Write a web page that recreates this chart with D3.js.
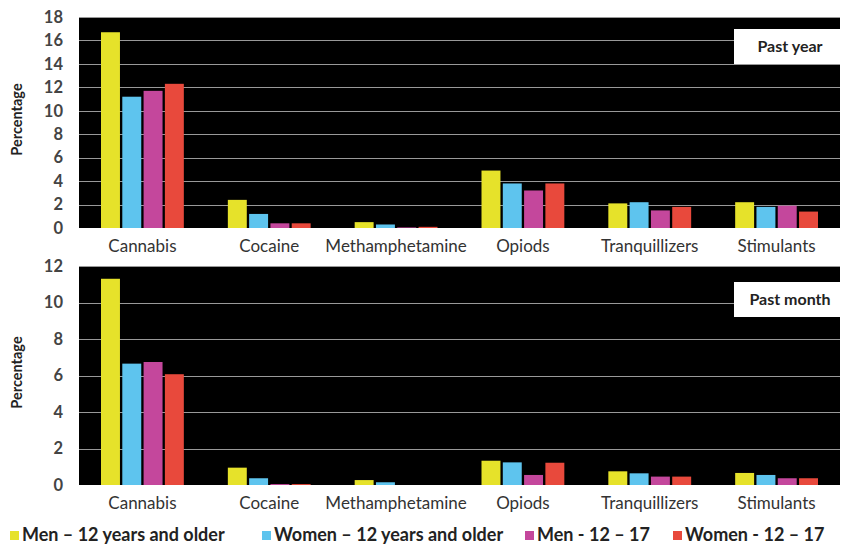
<!DOCTYPE html>
<meta charset="utf-8">
<style>
  body { margin: 0; background: #fff; }
  text { font-family: Lato, "Open Sans", sans-serif; }
</style>
<body>
<script src="https://d3js.org/d3.v7.min.js"></script>
<script>
// data
const drugs = ["Cannabis", "Cocaine", "Methamphetamine", "Opiods", "Tranquillizers", "Stimulants"];
const groups = ["Men \u2013 12 years and older", "Women \u2013 12 years and older", "Men - 12 \u2013 17", "Women - 12 \u2013 17"];
const colors = ["#e6e22a", "#5ec4ee", "#c4479c", "#e8493c"];

// past year, one array per group (same order as drugs)
const yearMen = [16.7, 2.4, 0.5, 4.9, 2.1, 2.2];
const yearWomen = [11.2, 1.2, 0.3, 3.8, 2.2, 1.8];
const yearBoys = [11.7, 0.4, 0.05, 3.2, 1.5, 1.9];
const yearGirls = [12.3, 0.4, 0.1, 3.8, 1.8, 1.4];

// past month
const monthMen = [11.3, 0.95, 0.27, 1.33, 0.75, 0.66];
const monthWomen = [6.65, 0.37, 0.15, 1.24, 0.64, 0.55];
const monthBoys = [6.74, 0.05, 0.0, 0.55, 0.46, 0.37];
const monthGirls = [6.07, 0.05, 0.0, 1.22, 0.46, 0.37];

const yearTicks = [0, 2, 4, 6, 8, 10, 12, 14, 16, 18];
const monthTicks = [0, 2, 4, 6, 8, 10, 12];

const W = 842, H = 544;
const svg = d3.select("body").append("svg").attr("width", W).attr("height", H);

const x0 = d3.scaleBand().domain(drugs).range([79, 840]).paddingInner(0.31).paddingOuter(0.155);
const x1 = d3.scaleBand().domain(d3.range(4)).range([0, x0.bandwidth()]).padding(0.11);

function panel(top, bottom, yMax, ticks, series, label, boxY) {
  const y = d3.scaleLinear().domain([0, yMax]).range([bottom, top]);
  const g = svg.append("g");

  g.append("rect").attr("x", 79).attr("y", top).attr("width", 840 - 79).attr("height", bottom - top)
    .attr("fill", "#000");

  // gridlines
  g.append("g").selectAll("line").data(ticks.slice(1)).join("line")
    .attr("x1", 79).attr("x2", 840)
    .attr("y1", d => Math.round(y(d)) + 0.5).attr("y2", d => Math.round(y(d)) + 0.5)
    .attr("stroke", "#999").attr("stroke-width", 1);

  // bars
  drugs.forEach((drug, i) => {
    g.append("g").selectAll("rect").data(series.map(s => s[i])).join("rect")
      .attr("x", (d, k) => x0(drug) + x1(k))
      .attr("width", x1.bandwidth())
      .attr("y", d => y(d))
      .attr("height", d => bottom - y(d))
      .attr("fill", (d, k) => colors[k]);
  });

  // y axis labels
  const yAxis = d3.axisLeft(y).tickValues(ticks).tickSize(0).tickPadding(0);
  const ax = g.append("g").attr("transform", "translate(63,0)").call(yAxis);
  ax.select(".domain").remove();
  ax.selectAll("text").attr("font-size", 16.5).attr("font-weight", "bold").attr("fill", "#444")
    .style("font-family", "Lato, sans-serif");

  // x axis labels
  const xAxis = d3.axisBottom(x0).tickSize(0).tickPadding(0);
  const bx = g.append("g").attr("transform", `translate(0,${bottom + 12})`).call(xAxis);
  bx.select(".domain").remove();
  bx.selectAll("text").attr("font-size", 17).attr("fill", "#333")
    .style("font-family", "Lato, sans-serif");

  g.append("text")
    .attr("transform", `translate(22,${(top + bottom) / 2 - 3}) rotate(-90)`)
    .attr("text-anchor", "middle").attr("font-size", 14.5).attr("font-weight", "bold").attr("fill", "#222")
    .text("Percentage");

  g.append("rect").attr("x", 734).attr("y", boxY).attr("width", 108).attr("height", 35).attr("fill", "#fff");
  g.append("text").attr("x", 790).attr("y", boxY + 23).attr("text-anchor", "middle")
    .attr("font-size", 16).attr("font-weight", "bold").attr("fill", "#222").text(label);
}

panel(17, 228, 18, yearTicks, [yearMen, yearWomen, yearBoys, yearGirls], "Past year", 29);
panel(266, 485, 12, monthTicks, [monthMen, monthWomen, monthBoys, monthGirls], "Past month", 282);

// legend
const legendX = [10, 262, 525, 673];
const lg = svg.append("g").selectAll("g").data(groups).join("g")
  .attr("transform", (d, i) => `translate(${legendX[i]},528)`);
lg.append("rect").attr("width", 9).attr("height", 9).attr("y", 3).attr("fill", (d, i) => colors[i]);
lg.append("text").attr("x", 12).attr("y", 13).attr("font-size", 18).attr("font-weight", "bold")
  .attr("fill", "#222").text(d => d);
</script>
</body>
</html>
